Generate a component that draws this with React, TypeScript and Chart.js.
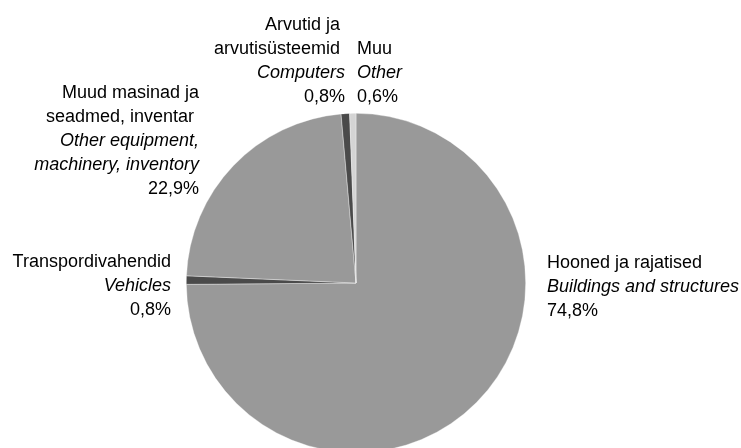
import React, { useEffect, useRef } from "react";
import { Chart, registerables } from "chart.js";

Chart.register(...registerables);

// ---- Data ----
const categoriesEt: string[][] = [
  ["Hooned ja rajatised"],
  ["Transpordivahendid"],
  ["Muud masinad ja", "seadmed, inventar "],
  ["Arvutid ja ", "arvutisüsteemid "],
  ["Muu"],
];
const categoriesEn: string[][] = [
  ["Buildings and structures"],
  ["Vehicles"],
  ["Other equipment,", "machinery, inventory"],
  ["Computers"],
  ["Other"],
];
const values: number[] = [74.8, 0.8, 22.9, 0.8, 0.6];
const sliceColors: string[] = ["#999999", "#4a4a4a", "#999999", "#4a4a4a", "#d4d4d4"];

// ---- Label layout (anchor x, alignment, first baseline y) ----
const labelLayout = [
  { x: 547, align: "left", y: 268 },
  { x: 171, align: "right", y: 267 },
  { x: 199, align: "right", y: 98 },
  { x: 345, align: "right", y: 30 },
  { x: 357, align: "left", y: 54 },
];
const LINE_H = 24;
const FONT_FAMILY = '"Liberation Sans", Arial, sans-serif';
const FONT_SIZE = 18;

const fmtPct = (v: number) => v.toFixed(1).replace(".", ",") + "%";

const labelPlugin = {
  id: "outerLabels",
  afterDraw(chart: any) {
    const ctx = chart.ctx as CanvasRenderingContext2D;
    ctx.save();
    ctx.fillStyle = "#000000";
    ctx.textBaseline = "alphabetic";
    values.forEach((v, i) => {
      const lay = labelLayout[i];
      ctx.textAlign = lay.align as CanvasTextAlign;
      let y = lay.y;
      const lines: { t: string; italic: boolean }[] = [];
      categoriesEt[i].forEach((t) => lines.push({ t, italic: false }));
      categoriesEn[i].forEach((t) => lines.push({ t, italic: true }));
      lines.push({ t: fmtPct(v), italic: false });
      lines.forEach((ln) => {
        ctx.font = `${ln.italic ? "italic " : ""}${FONT_SIZE}px ${FONT_FAMILY}`;
        ctx.fillText(ln.t, lay.x, y);
        y += LINE_H;
      });
    });
    ctx.restore();
  },
};

export default function App() {
  const ref = useRef<HTMLCanvasElement | null>(null);
  useEffect(() => {
    document.body.style.margin = "0";
    const canvas = ref.current!;
    const chart = new Chart(canvas, {
      type: "pie",
      data: {
        labels: categoriesEt.map((l) => l.join(" ")),
        datasets: [
          {
            data: values,
            backgroundColor: sliceColors,
            borderColor: "rgba(255,255,255,0.6)",
            borderWidth: 0.6,
          },
        ],
      },
      options: {
        responsive: false,
        animation: false,
        layout: { padding: { left: 186, right: 215, top: 113, bottom: 7 } },
        plugins: {
          legend: { display: false },
          tooltip: { enabled: false },
        },
      },
      plugins: [labelPlugin],
    });
    return () => chart.destroy();
  }, []);
  return (
    <div style={{ position: "absolute", left: 0, top: 0, width: 741, height: 448, overflow: "hidden", background: "#fff" }}>
      <canvas ref={ref} width={741} height={460} style={{ width: 741, height: 460, display: "block" }} />
    </div>
  );
}
